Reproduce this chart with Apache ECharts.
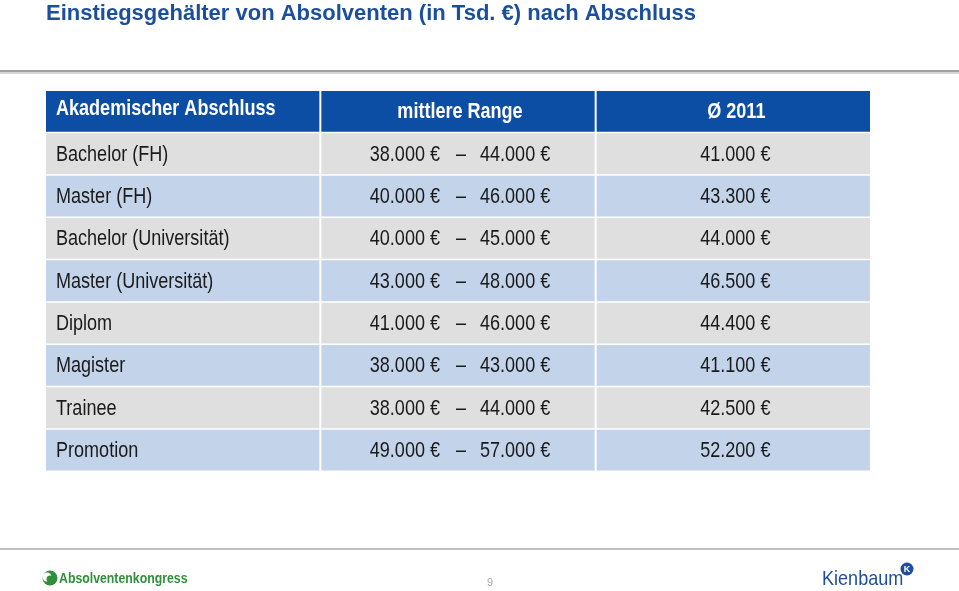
<!DOCTYPE html>
<html>
<head>
<meta charset="utf-8">
<title>Einstiegsgehälter</title>
<script src="https://cdn.jsdelivr.net/npm/echarts@6/dist/echarts.min.js"></script>
<style>
  html, body { margin: 0; padding: 0; background: #fff; }
  #main { width: 959px; height: 591px; }
</style>
</head>
<body>
<div id="main"></div>
<script>
// Tabellendaten
const headers = ['Akademischer Abschluss', 'mittlere Range', 'Ø 2011'];
const categories = ['Bachelor (FH)', 'Master (FH)', 'Bachelor (Universität)', 'Master (Universität)',
  'Diplom', 'Magister', 'Trainee', 'Promotion'];
const rangeLow = [38000, 40000, 40000, 43000, 41000, 38000, 38000, 49000];
const rangeHigh = [44000, 46000, 45000, 48000, 46000, 43000, 44000, 57000];
const avg2011 = [41000, 43300, 44000, 46500, 44400, 41100, 42500, 52200];

// keine Arial Narrow vorhanden -> Liberation Sans horizontal gestaucht
const FONT = '"Liberation Sans", Arial, sans-serif';
const NARROW = 0.82;

function eur(v) {
  return String(v).replace(/\B(?=(\d{3})+(?!\d))/g, '.') + ' €';
}

const rowNames = ['header'].concat(categories);
const cells = [];
for (let r = 0; r < rowNames.length; r++) {
  for (let c = 0; c < 3; c++) cells.push([c, r]);
}

function renderCell(params, api) {
  const c = api.value(0), r = api.value(1);
  const pt = api.coord([c, r]);
  const sz = api.size([1, 1]);
  const x = pt[0] - sz[0] / 2, y = pt[1] - sz[1] / 2;
  const w = sz[0] - 2, h = sz[1] - 1.5;
  let fill;
  if (r === 0) fill = '#0c4ea3';
  else fill = (r % 2 === 1) ? '#dfdfdf' : '#c3d3ea';

  const children = [{
    type: 'rect',
    shape: { x: x, y: y, width: w, height: h },
    style: { fill: fill }
  }];
  const cy = y + h / 2 + 1;
  const txt = (s, tx, ty, align, bold) => ({
    type: 'text',
    x: tx, y: ty, scaleX: NARROW,
    style: {
      text: s, x: 0, y: 0, align: align, verticalAlign: 'middle',
      fill: r === 0 ? '#fff' : '#1a1a1a',
      font: (bold ? 'bold ' : '') + '22px ' + FONT
    }
  });
  const mid = x + w / 2;
  if (r === 0) {
    if (c === 0) children.push(txt(headers[0], x + 10, cy - 3, 'left', true));
    else if (c === 1) children.push(txt(headers[1], mid + 2, cy, 'center', true));
    else children.push(txt(headers[2], mid + 3, cy, 'center', true));
  } else {
    const i = r - 1;
    if (c === 0) children.push(txt(categories[i], x + 10, cy, 'left', false));
    else if (c === 1) {
      children.push(txt(eur(rangeLow[i]), mid - 18, cy, 'right', false));
      children.push(txt('–', mid + 3, cy, 'center', false));
      children.push(txt(eur(rangeHigh[i]), mid + 22, cy, 'left', false));
    } else children.push(txt(eur(avg2011[i]), mid + 2, cy, 'center', false));
  }
  return { type: 'group', children: children };
}

const chart = echarts.init(document.getElementById('main'), null, { renderer: 'canvas' });
chart.setOption({
  animation: false,
  grid: { left: 46, right: 87, top: 91, bottom: 119 },
  xAxis: { type: 'category', data: [0, 1, 2], show: false },
  yAxis: { type: 'category', data: rowNames, inverse: true, show: false },
  graphic: [
    {
      type: 'text', x: 46, y: 14,
      style: { text: 'Einstiegsgehälter von Absolventen (in Tsd. €) nach Abschluss',
        x: 0, y: 0, verticalAlign: 'middle',
        font: 'bold 22px ' + FONT, fill: '#1b4f9c' }
    },
    { type: 'rect', x: 0, y: 70, shape: { width: 959, height: 2 }, style: { fill: '#a0a0a0' } },
    { type: 'rect', x: 0, y: 72, shape: { width: 959, height: 2 }, style: { fill: '#d4d4d4' } },
    { type: 'rect', x: 0, y: 548, shape: { width: 959, height: 2 }, style: { fill: '#c0c0c0' } },
    {
      type: 'text', x: 490, y: 583,
      style: { text: '9', x: 0, y: 0, align: 'center', verticalAlign: 'middle',
        font: '11px ' + FONT, fill: '#a8a8a8' }
    },
    // Logo Absolventenkongress
    { type: 'circle', shape: { cx: 50, cy: 578, r: 7.5 }, style: { fill: '#2f8f3a' } },
    { type: 'circle', shape: { cx: 47, cy: 577, r: 4.5 }, style: { fill: '#fff' } },
    { type: 'circle', shape: { cx: 50, cy: 579, r: 3.5 }, style: { fill: '#2f8f3a' } },
    {
      type: 'text', x: 59, y: 579, scaleX: 0.82,
      style: { text: 'Absolventenkongress', x: 0, y: 0, verticalAlign: 'middle',
        font: 'bold 15px ' + FONT, fill: '#2f8f3a' }
    },
    // Logo Kienbaum
    {
      type: 'text', x: 822, y: 579, scaleX: 0.86,
      style: { text: 'Kienbaum', x: 0, y: 0, verticalAlign: 'middle',
        font: '21px ' + FONT, fill: '#1f4e9a' }
    },
    { type: 'circle', shape: { cx: 907, cy: 569, r: 6.5 }, style: { fill: '#1f4e9a' } },
    {
      type: 'text', x: 907, y: 569.5,
      style: { text: 'K', x: 0, y: 0, align: 'center', verticalAlign: 'middle',
        font: 'bold 9px ' + FONT, fill: '#fff' }
    }
  ],
  series: [{
    type: 'custom',
    renderItem: renderCell,
    data: cells,
    encode: { x: 0, y: 1 },
    silent: true
  }]
});
</script>
</body>
</html>
